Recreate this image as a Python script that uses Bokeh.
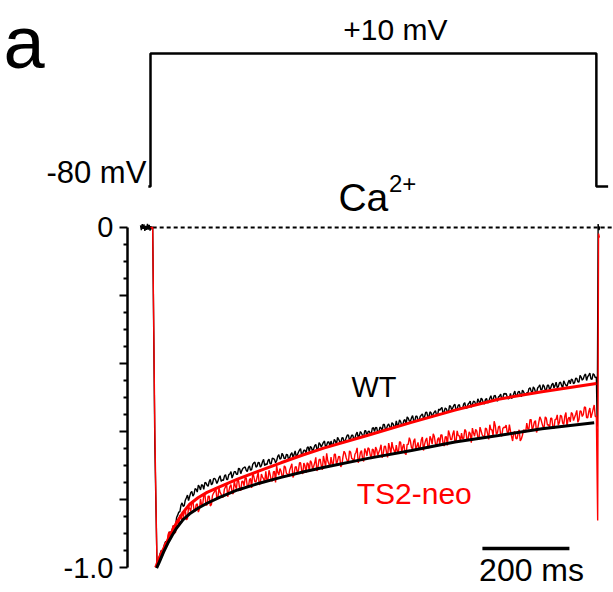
import numpy as np
from bokeh.plotting import figure
from bokeh.models import Range1d, LinearAxis, FixedTicker, Label
from bokeh.embed import file_html
from bokeh.resources import INLINE

# ---- voltage protocol (ms, mV) ----
protocol_t = [-5, 0, 0, 1025, 1025, 1052]
protocol_mv = [-80, -80, 10, 10, -80, -80]

# ---- sampling grids (ms) ----
wt_pre_t = np.arange(-23, 6, 2)           # holding segment before the step
ts2_pre_t = [1, 3, 5]
onset_t = [10]
sweep_t = np.arange(15, 1025.1, 2.5)       # during the +10 mV step
wt_tail_t = [1027, 1029, 1031, 1033]
ts2_tail_t = [1028, 1030, 1032]

# ---- normalised Ca2+ current, WT ----
wt_pre = [0.006, -0.008, 0.010, -0.004, 0.009, -0.010, 0.005, -0.007,
          0.011, -0.006, 0.008, -0.009, 0.004, -0.005, 0.002]
wt_onset = [-0.64]
wt_sweep = [
    -0.996, -0.984, -0.974, -0.958, -0.949, -0.956, -0.944, -0.930, -0.923, -0.931, -0.922, -0.906, -0.894, -0.906, -0.889, -0.877, -0.881, -0.877, -0.853, -0.846,
    -0.837, -0.836, -0.817, -0.810, -0.820, -0.818, -0.802, -0.795, -0.787, -0.803, -0.791, -0.780, -0.776, -0.790, -0.784, -0.768, -0.770, -0.778, -0.758, -0.763,
    -0.772, -0.756, -0.759, -0.770, -0.750, -0.751, -0.758, -0.761, -0.747, -0.741, -0.757, -0.753, -0.739, -0.738, -0.743, -0.753, -0.746, -0.736, -0.730, -0.747,
    -0.742, -0.744, -0.731, -0.727, -0.741, -0.741, -0.727, -0.725, -0.718, -0.737, -0.728, -0.718, -0.718, -0.726, -0.726, -0.708, -0.710, -0.724, -0.715, -0.708,
    -0.706, -0.704, -0.714, -0.718, -0.706, -0.701, -0.714, -0.712, -0.697, -0.692, -0.690, -0.705, -0.702, -0.691, -0.692, -0.705, -0.700, -0.689, -0.682, -0.700,
    -0.695, -0.698, -0.686, -0.681, -0.695, -0.695, -0.678, -0.680, -0.682, -0.692, -0.686, -0.673, -0.668, -0.681, -0.679, -0.664, -0.670, -0.680, -0.679, -0.667,
    -0.669, -0.683, -0.677, -0.667, -0.662, -0.676, -0.668, -0.657, -0.673, -0.669, -0.661, -0.655, -0.650, -0.671, -0.664, -0.655, -0.655, -0.663, -0.648, -0.645,
    -0.659, -0.644, -0.647, -0.659, -0.651, -0.642, -0.638, -0.652, -0.652, -0.633, -0.637, -0.646, -0.639, -0.632, -0.628, -0.647, -0.640, -0.631, -0.631, -0.643,
    -0.628, -0.640, -0.638, -0.623, -0.628, -0.638, -0.617, -0.623, -0.630, -0.636, -0.619, -0.618, -0.631, -0.627, -0.618, -0.610, -0.611, -0.626, -0.620, -0.611,
    -0.611, -0.624, -0.620, -0.608, -0.602, -0.618, -0.612, -0.600, -0.605, -0.612, -0.615, -0.598, -0.598, -0.615, -0.601, -0.599, -0.605, -0.607, -0.590, -0.589,
    -0.600, -0.588, -0.589, -0.604, -0.601, -0.587, -0.590, -0.598, -0.579, -0.579, -0.593, -0.592, -0.582, -0.578, -0.586, -0.593, -0.574, -0.577, -0.586, -0.587,
    -0.569, -0.583, -0.580, -0.566, -0.571, -0.582, -0.581, -0.567, -0.565, -0.580, -0.557, -0.561, -0.569, -0.570, -0.560, -0.553, -0.568, -0.570, -0.555, -0.555,
    -0.566, -0.568, -0.556, -0.552, -0.548, -0.561, -0.557, -0.544, -0.543, -0.556, -0.558, -0.542, -0.545, -0.559, -0.548, -0.543, -0.539, -0.551, -0.552, -0.534,
    -0.538, -0.533, -0.529, -0.548, -0.542, -0.531, -0.533, -0.542, -0.542, -0.524, -0.526, -0.537, -0.530, -0.523, -0.520, -0.539, -0.533, -0.523, -0.521, -0.534,
    -0.530, -0.532, -0.519, -0.515, -0.531, -0.531, -0.520, -0.516, -0.511, -0.529, -0.520, -0.511, -0.512, -0.520, -0.522, -0.504, -0.511, -0.520, -0.502, -0.505,
    -0.516, -0.519, -0.506, -0.503, -0.516, -0.513, -0.502, -0.495, -0.507, -0.507, -0.495, -0.494, -0.506, -0.511, -0.498, -0.496, -0.490, -0.505, -0.501, -0.488,
    -0.490, -0.488, -0.498, -0.504, -0.502, -0.488, -0.503, -0.499, -0.489, -0.481, -0.496, -0.495, -0.484, -0.482, -0.490, -0.498, -0.478, -0.483, -0.490, -0.492,
    -0.486, -0.487, -0.474, -0.471, -0.481, -0.487, -0.469, -0.473, -0.484, -0.486, -0.472, -0.468, -0.463, -0.478, -0.476, -0.462, -0.467, -0.479, -0.477, -0.464,
    -0.464, -0.477, -0.472, -0.462, -0.458, -0.472, -0.465, -0.455, -0.471, -0.468, -0.457, -0.455, -0.464, -0.473, -0.451, -0.458, -0.464, -0.467, -0.456, -0.449,
    -0.460, -0.446, -0.448, -0.460, -0.456, -0.443, -0.444, -0.454, -0.455, -0.435, -0.440, -0.449, -0.445, -0.435, -0.431, -0.450, -0.439, -0.434, -0.428, -0.445,
    -0.447, -0.430, -0.433, -0.442, -0.440,
]
wt_tail = [-0.585, 0.010, -0.008, 0.003]

# ---- normalised Ca2+ current, TS2-neo ----
ts2_pre = [0.002, -0.003, 0.001]
ts2_onset = [-0.60]
ts2_sweep = [
    -0.998, -0.988, -0.981, -0.960, -0.952, -0.965, -0.955, -0.931, -0.927, -0.936, -0.906, -0.895, -0.911, -0.907, -0.886, -0.876, -0.899, -0.897, -0.868, -0.861,
    -0.878, -0.846, -0.848, -0.863, -0.852, -0.839, -0.828, -0.860, -0.856, -0.822, -0.826, -0.835, -0.808, -0.805, -0.832, -0.834, -0.815, -0.813, -0.837, -0.828,
    -0.798, -0.818, -0.814, -0.788, -0.783, -0.816, -0.816, -0.790, -0.790, -0.819, -0.815, -0.788, -0.781, -0.776, -0.764, -0.797, -0.795, -0.765, -0.779, -0.785,
    -0.794, -0.792, -0.769, -0.763, -0.755, -0.792, -0.776, -0.762, -0.756, -0.778, -0.784, -0.746, -0.760, -0.768, -0.739, -0.745, -0.768, -0.774, -0.747, -0.746,
    -0.760, -0.737, -0.736, -0.761, -0.764, -0.742, -0.738, -0.766, -0.722, -0.732, -0.748, -0.748, -0.734, -0.720, -0.757, -0.751, -0.725, -0.734, -0.739, -0.750,
    -0.717, -0.742, -0.742, -0.714, -0.727, -0.744, -0.746, -0.719, -0.717, -0.750, -0.701, -0.720, -0.728, -0.709, -0.716, -0.731, -0.733, -0.701, -0.705, -0.723,
    -0.726, -0.733, -0.713, -0.704, -0.695, -0.735, -0.727, -0.705, -0.703, -0.722, -0.715, -0.692, -0.692, -0.714, -0.725, -0.693, -0.700, -0.722, -0.692, -0.695,
    -0.716, -0.686, -0.691, -0.710, -0.703, -0.692, -0.676, -0.716, -0.705, -0.683, -0.681, -0.700, -0.713, -0.672, -0.687, -0.704, -0.664, -0.686, -0.695, -0.703,
    -0.675, -0.695, -0.696, -0.667, -0.667, -0.697, -0.686, -0.673, -0.674, -0.704, -0.697, -0.674, -0.658, -0.664, -0.678, -0.687, -0.689, -0.657, -0.661, -0.679,
    -0.681, -0.689, -0.667, -0.661, -0.648, -0.692, -0.682, -0.662, -0.656, -0.680, -0.688, -0.650, -0.658, -0.672, -0.648, -0.651, -0.668, -0.681, -0.652, -0.654,
    -0.677, -0.646, -0.653, -0.670, -0.661, -0.652, -0.639, -0.677, -0.666, -0.644, -0.643, -0.661, -0.676, -0.634, -0.648, -0.666, -0.631, -0.648, -0.656, -0.665,
    -0.640, -0.658, -0.661, -0.630, -0.632, -0.661, -0.645, -0.637, -0.664, -0.668, -0.638, -0.638, -0.618, -0.628, -0.648, -0.651, -0.629, -0.621, -0.654, -0.643,
    -0.632, -0.653, -0.646, -0.625, -0.616, -0.656, -0.638, -0.626, -0.619, -0.644, -0.649, -0.614, -0.622, -0.637, -0.607, -0.615, -0.636, -0.645, -0.623, -0.618,
    -0.637, -0.610, -0.610, -0.634, -0.643, -0.616, -0.615, -0.641, -0.597, -0.608, -0.624, -0.624, -0.607, -0.597, -0.632, -0.629, -0.598, -0.612, -0.613, -0.629,
    -0.605, -0.622, -0.620, -0.594, -0.599, -0.625, -0.623, -0.601, -0.606, -0.633, -0.590, -0.604, -0.614, -0.594, -0.598, -0.617, -0.623, -0.587, -0.598, -0.610,
    -0.614, -0.620, -0.590, -0.592, -0.607, -0.623, -0.580, -0.594, -0.595, -0.612, -0.570, -0.582, -0.607, -0.605, -0.586, -0.584, -0.610, -0.614, -0.591, -0.587,
    -0.589, -0.581, -0.602, -0.606, -0.580, -0.598, -0.614, -0.628, -0.603, -0.600, -0.620, -0.622, -0.606, -0.595, -0.628, -0.622, -0.611, -0.595, -0.596, -0.602,
    -0.575, -0.593, -0.592, -0.565, -0.565, -0.596, -0.586, -0.572, -0.568, -0.603, -0.592, -0.574, -0.557, -0.564, -0.576, -0.587, -0.586, -0.557, -0.561, -0.581,
    -0.580, -0.589, -0.561, -0.561, -0.586, -0.592, -0.565, -0.564, -0.551, -0.582, -0.573, -0.552, -0.555, -0.575, -0.579, -0.555, -0.544, -0.585, -0.563, -0.558,
    -0.572, -0.544, -0.548, -0.568, -0.558, -0.549, -0.538, -0.573, -0.565, -0.539, -0.541, -0.556, -0.550, -0.528, -0.529, -0.559, -0.560, -0.542, -0.531, -0.560,
    -0.548, -0.535, -0.522, -0.556, -0.556,
]
ts2_tail = [-0.862, -0.018, -0.030]

# ---- inactivation fits ----
wt_fit_t = [12, 20, 30, 40, 50, 60, 75, 90, 110, 130, 160, 200, 250, 300,
            350, 400, 500, 600, 700, 800, 900, 1025]
wt_fit = [-1.000, -0.972, -0.945, -0.919, -0.893, -0.868, -0.838, -0.814,
          -0.794, -0.779, -0.762, -0.740, -0.716, -0.692, -0.669, -0.648,
          -0.611, -0.573, -0.537, -0.505, -0.483, -0.459]
ts2_fit_t = [14, 20, 30, 40, 50, 60, 75, 90, 110, 130, 160, 200, 250, 300,
             350, 400, 500, 600, 700, 800, 900, 1020]
ts2_fit = [-1.002, -0.985, -0.955, -0.928, -0.905, -0.884, -0.859, -0.842,
           -0.825, -0.811, -0.793, -0.772, -0.752, -0.735, -0.719, -0.705,
           -0.679, -0.656, -0.631, -0.612, -0.592, -0.574]

# ---- axis ticks (normalised current) ----
major_ticks = [-1.0, -0.8, -0.6, -0.4, -0.2, 0.0]
minor_ticks = [-0.95, -0.9, -0.85, -0.75, -0.7, -0.65, -0.55, -0.5, -0.45,
               -0.35, -0.3, -0.25, -0.15, -0.1, -0.05]
tick_labels = {-1.0: "-1.0", -0.8: "", -0.6: "", -0.4: "", -0.2: "", 0.0: "0"}

scalebar_ms = 200

RED = "#ff0000"
FONT = "Liberation Sans"

X0, X1 = -344.83, 1064.37     # time window shown (ms)
AXIS_T = -52.87                # where the current axis sits on the time scale

p = figure(width=613, height=592, output_backend="svg", toolbar_location=None,
           x_axis_type=None, y_axis_type=None,
           x_range=Range1d(X0, X1), y_range=Range1d(-1.0735, 0.6676),
           min_border_left=0, min_border_right=0, min_border_top=0,
           min_border_bottom=0, outline_line_color=None,
           background_fill_color="white", border_fill_color="white")
p.extra_y_ranges = {"mv": Range1d(-354.73, 45.86)}

yaxis = LinearAxis(bounds=(-1.0, 0.0), fixed_location=AXIS_T,
                   ticker=FixedTicker(ticks=major_ticks, minor_ticks=minor_ticks),
                   major_label_overrides=tick_labels,
                   axis_line_width=2.5, axis_line_color="black",
                   major_tick_line_width=2, major_tick_in=0, major_tick_out=8,
                   minor_tick_line_width=2, minor_tick_in=0, minor_tick_out=4,
                   major_label_standoff=6,
                   major_label_text_font=FONT,
                   major_label_text_font_size="29px",
                   major_label_text_color="black")
p.add_layout(yaxis, "left")

# voltage command
p.line(protocol_t, protocol_mv, y_range_name="mv", line_color="black",
       line_width=2.5)

# zero-current reference
p.line([sweep_t[0] - 10, X1], [0, 0], line_color="black",
       line_width=2, line_dash="4 3")

# raw traces
wt_t = np.concatenate([wt_pre_t, onset_t, sweep_t, wt_tail_t])
wt_y = np.concatenate([wt_pre, wt_onset, wt_sweep, wt_tail])
ts2_t = np.concatenate([ts2_pre_t, onset_t, sweep_t, ts2_tail_t])
ts2_y = np.concatenate([ts2_pre, ts2_onset, ts2_sweep, ts2_tail])

p.line(wt_t, wt_y, line_color="black", line_width=1.4)
p.line(ts2_t, ts2_y, line_color=RED, line_width=1.4)

# fits: red over WT, black over TS2-neo
p.line(wt_fit_t, wt_fit, line_color=RED, line_width=3)
p.line(ts2_fit_t, ts2_fit, line_color="black", line_width=3)

# 200 ms scale bar
bar_start = 763
p.line([bar_start, bar_start + scalebar_ms], [-0.944, -0.944],
       line_color="black", line_width=3.5)


def add_label(x, y, text, size, color="black", align="left", lift=0, **kw):
    # lift: extra upward shift in px on top of the baseline correction
    p.add_layout(Label(x=x, y=y, text=text, text_font=FONT,
                       text_font_size=f"{size}px", text_color=color,
                       text_align=align, text_baseline="alphabetic",
                       y_offset=round(0.4 * size) + lift, **kw))


add_label(-338, 0.476, "a", 74, lift=-7)
add_label(563, 10, "+10 mV", 30, align="center", y_range_name="mv", lift=12)
add_label(-9.5, -80, "-80 mV", 31, align="right", y_range_name="mv", lift=2)
add_label(432, 0.041, "Ca", 39)
add_label(548, 0.100, "2+", 24)
add_label(462, -0.503, "WT", 29)
add_label(474, -0.818, "TS2-neo", 30, color=RED)
add_label(876, -1.047, "200 ms", 32, align="center")

open("out.html", "w").write(file_html(p, INLINE))
